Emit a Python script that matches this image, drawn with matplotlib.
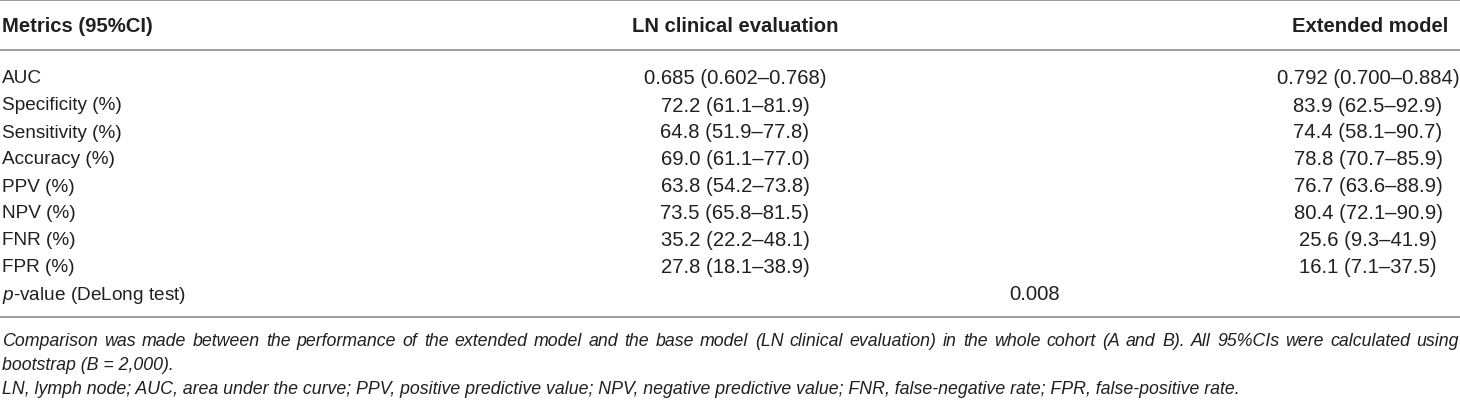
import matplotlib
matplotlib.use("Agg")
import matplotlib.pyplot as plt

plt.rcParams['font.family'] = ['Liberation Sans', 'DejaVu Sans']
plt.rcParams['mathtext.fontset'] = 'custom'
plt.rcParams['mathtext.it'] = 'Liberation Sans:italic'
plt.rcParams['mathtext.rm'] = 'Liberation Sans'

headers = ["Metrics (95%CI)", "LN clinical evaluation", "Extended model"]
metrics = ["AUC", "Specificity (%)", "Sensitivity (%)", "Accuracy (%)",
           "PPV (%)", "NPV (%)", "FNR (%)", "FPR (%)"]
ln_values = ["0.685 (0.602\u20130.768)", "72.2 (61.1\u201381.9)", "64.8 (51.9\u201377.8)",
             "69.0 (61.1\u201377.0)", "63.8 (54.2\u201373.8)", "73.5 (65.8\u201381.5)",
             "35.2 (22.2\u201348.1)", "27.8 (18.1\u201338.9)"]
ext_values = ["0.792 (0.700\u20130.884)", "83.9 (62.5\u201392.9)", "74.4 (58.1\u201390.7)",
              "78.8 (70.7\u201385.9)", "76.7 (63.6\u201388.9)", "80.4 (72.1\u201390.9)",
              "25.6 (9.3\u201341.9)", "16.1 (7.1\u201337.5)"]
p_label = r"$p$-value (DeLong test)"
p_value = "0.008"
footnotes = [
    "Comparison was made between the performance of the extended model and the base model "
    "(LN clinical evaluation) in the whole cohort (A and B). All 95%CIs were calculated using",
    "bootstrap (B = 2,000).",
    "LN, lymph node; AUC, area under the curve; PPV, positive predictive value; NPV, negative "
    "predictive value; FNR, false-negative rate; FPR, false-positive rate.",
]

W, H = 1460, 402
fig = plt.figure(figsize=(W / 100, H / 100), dpi=100)
fig.patch.set_facecolor('white')

txt_color = '#231f20'
rule_color = '#8c8c8c'
fs = 14.6       # header + numbers
fs_lab = 13.7   # row labels (reference face is narrower)
fs_foot = 12.8  # footnotes


def fx(x):
    return x / W


def fy(y):
    return 1 - y / H


def rule(y):
    fig.add_artist(plt.Line2D([0, 1], [fy(y), fy(y)], color=rule_color, lw=1.2))


rule(1)
rule(51)
rule(318)

# header
fig.text(fx(2), fy(27), headers[0], fontsize=fs, fontweight='bold', color=txt_color,
         ha='left', va='center')
fig.text(fx(735), fy(27), headers[1], fontsize=fs, fontweight='bold', color=txt_color,
         ha='center', va='center')
fig.text(fx(1448), fy(27), headers[2], fontsize=fs, fontweight='bold', color=txt_color,
         ha='right', va='center')

row0, step = 79, 27
for i, (m, a, b) in enumerate(zip(metrics, ln_values, ext_values)):
    y = row0 + i * step
    fig.text(fx(2), fy(y), m, fontsize=fs_lab, color=txt_color, ha='left', va='center')
    fig.text(fx(735), fy(y), a, fontsize=fs, color=txt_color, ha='center', va='center')
    fig.text(fx(1368), fy(y), b, fontsize=fs, color=txt_color, ha='center', va='center')

y = row0 + len(metrics) * step
fig.text(fx(2), fy(y), p_label, fontsize=fs_lab, color=txt_color, ha='left', va='center')
fig.text(fx(1035), fy(y), p_value, fontsize=fs, color=txt_color, ha='center', va='center')

# footnotes, first line justified to full width
renderer = fig.canvas.get_renderer()
foot_y = [342, 366, 390]
for k, (line, yy) in enumerate(zip(footnotes, foot_y)):
    if k == 0:
        words = line.split(' ')
        arts = [fig.text(0, fy(yy), w, fontsize=fs_foot, style='italic', color=txt_color,
                         ha='left', va='center') for w in words]
        widths = [a.get_window_extent(renderer).width for a in arts]
        gap = (W - 3 - sum(widths)) / (len(words) - 1)
        x = 2
        for a, wd in zip(arts, widths):
            a.set_x(fx(x))
            x += wd + gap
    else:
        fig.text(fx(2), fy(yy), line, fontsize=fs_foot, style='italic', color=txt_color,
                 ha='left', va='center')

fig.savefig("out.png", dpi=100, facecolor='white')
